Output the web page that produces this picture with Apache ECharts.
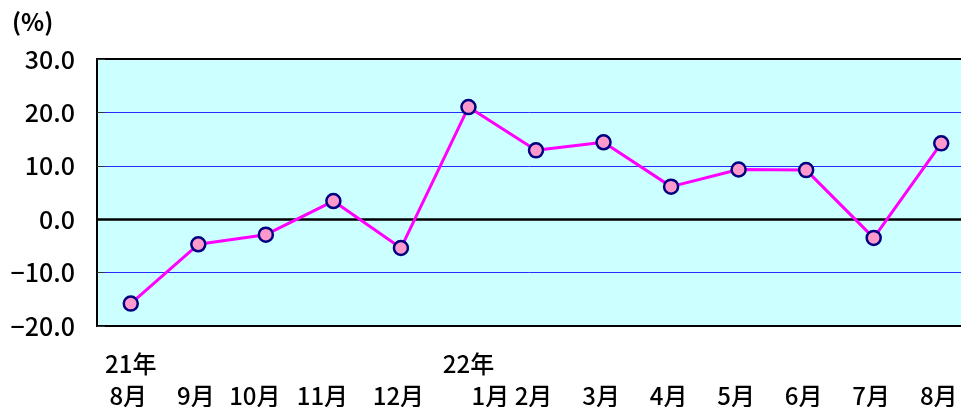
<!DOCTYPE html>
<html>
<head>
<meta charset="utf-8">
<script src="https://cdn.jsdelivr.net/npm/echarts@6/dist/echarts.min.js"></script>
<style>
html,body{margin:0;padding:0;background:#fff;overflow:hidden;}
#main{width:961px;height:407px;}
</style>
</head>
<body>
<div id="main"></div>
<script>
var years = ['21年', '', '', '', '', '22年', '', '', '', '', '', '', ''];
var months = ['8月', '9月', '10月', '11月', '12月', '1月', '2月', '3月', '4月', '5月', '6月', '7月', '8月'];
var values = [-15.8, -4.7, -2.9, 3.4, -5.4, 21.0, 12.9, 14.4, 6.1, 9.3, 9.2, -3.5, 14.2];
var yTicks = [-20, -10, 0, 10, 20, 30];
var unitLabel = '(%)';

var FONT = '"Noto Sans CJK JP", "Noto Sans", sans-serif';
// label style keys per category (visual nudges of the month text only)
var monthStyle = ['m', 'm', 'mL', 'mL', 'm', 'mR', 'm', 'm', 'm', 'm', 'm', 'm', 'm'];
var categories = months.map(function (m, i) { return String(i); });

var chart = echarts.init(document.getElementById('main'));
chart.setOption({
  animation: false,
  grid: {
    left: 97, right: -14, top: 59, bottom: 81,
    containLabel: false, outerBoundsMode: 'none',
    show: true, backgroundColor: '#ccffff', borderColor: '#000', borderWidth: 2
  },
  graphic: [{
    type: 'text', left: 12, top: 10,
    style: { text: unitLabel, font: 'bold 24px ' + FONT, fill: '#000' }
  }],
  xAxis: {
    type: 'category',
    data: categories,
    boundaryGap: true,
    axisLine: { show: false },
    axisTick: { show: false },
    axisLabel: {
      color: '#000', fontFamily: FONT, fontSize: 24, lineHeight: 32,
      margin: 22, interval: 0,
      formatter: function (v) {
        var i = +v;
        return '{y|' + (years[i] || ' ') + '}\n{' + monthStyle[i] + '|' + months[i] + '}';
      },
      rich: {
        y: { fontFamily: FONT, fontSize: 24, fontWeight: 500, lineHeight: 32, color: '#000' },
        m: { fontFamily: FONT, fontSize: 24, fontWeight: 500, lineHeight: 32, color: '#000', padding: [0, 5, 0, 0] },
        mL: { fontFamily: FONT, fontSize: 24, fontWeight: 500, lineHeight: 32, color: '#000', padding: [0, 22, 0, 0] },
        mR: { fontFamily: FONT, fontSize: 24, fontWeight: 500, lineHeight: 32, color: '#000', padding: [0, 0, 0, 44] }
      }
    },
    splitLine: { show: false }
  },
  yAxis: {
    type: 'value',
    min: yTicks[0], max: yTicks[yTicks.length - 1], interval: 10,
    axisLine: { show: true, lineStyle: { color: '#000', width: 2 } },
    axisTick: { show: true, inside: true, length: 8, lineStyle: { color: '#333', width: 1 } },
    axisLabel: {
      color: '#000', fontFamily: FONT, fontSize: 25, fontWeight: 500, margin: 22,
      formatter: function (v) { return (v < 0 ? '−' + Math.abs(v).toFixed(1) : v.toFixed(1)); }
    },
    splitLine: { show: true, showMinLine: false, showMaxLine: false, lineStyle: { color: '#2a2aff', width: 1 } }
  },
  series: [{
    type: 'line',
    data: values,
    symbol: 'circle',
    symbolSize: 14,
    lineStyle: { color: '#ff00ff', width: 3 },
    itemStyle: { color: '#ff99cc', borderColor: '#000080', borderWidth: 2.5 },
    z: 3,
    markLine: {
      silent: true, symbol: 'none', label: { show: false },
      lineStyle: { color: '#000', width: 2.5, type: 'solid' },
      data: [{ yAxis: 0 }],
      z: 2
    }
  }]
});
</script>
</body>
</html>
